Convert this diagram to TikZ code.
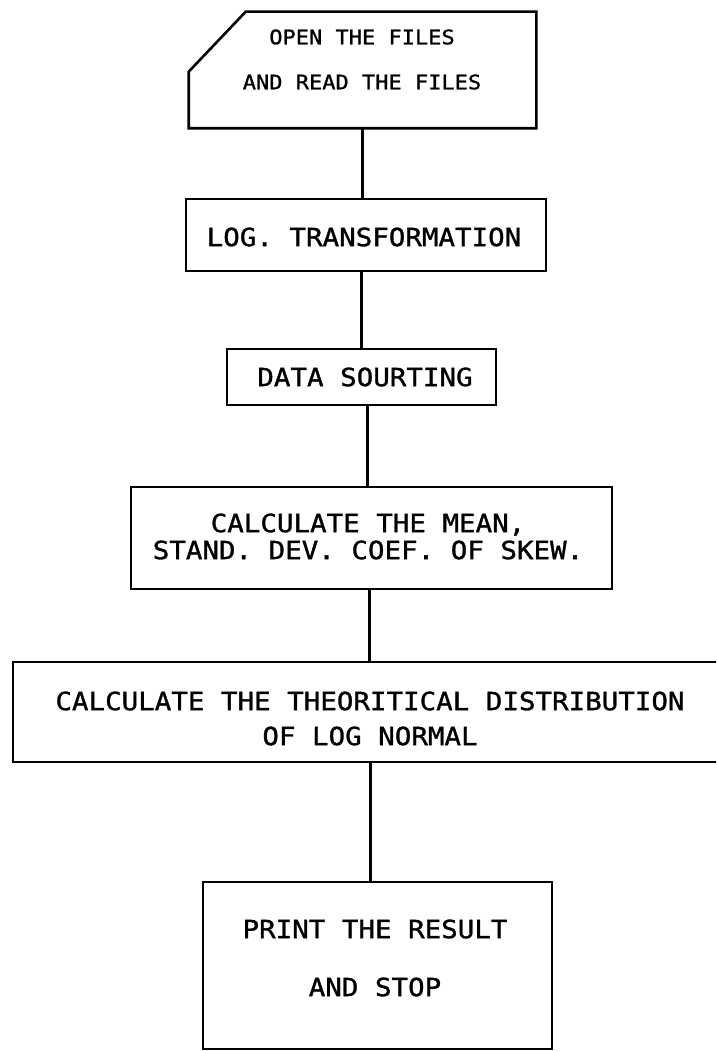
\documentclass[tikz,border=0pt]{standalone}
\usepackage{fontspec}
\newfontfamily\plotfont[FakeStretch=1.1,FakeBold=1.2]{DejaVu Sans Mono}
\usetikzlibrary{calc}
\begin{document}
\begin{tikzpicture}[x=1pt,y=-1pt,
  line width=2.6pt,
  box/.style={draw, rectangle, inner sep=0pt},
  txt/.style={inner sep=0pt, align=center, font=\plotfont\fontsize{25}{27}\selectfont},
  smalltxt/.style={txt, font=\plotfont\fontsize{20}{45}\selectfont},
  wire/.style={draw, line width=3pt}]
\useasboundingbox (0,0) rectangle (716,1051);
\clip (0,0) rectangle (716,1051);

% input card with a clipped upper-left corner
\node[minimum width=345pt, minimum height=114pt, inner sep=0pt] (open) at (362.5,70) {};
\draw ($(open.north west)+(57,0)$) -- (open.north east) -- (open.south east)
      -- (open.south west) -- ($(open.north west)+(0,60)$) -- cycle;
\node[smalltxt] (opentext) at (362,59.5) {OPEN THE FILES\\AND READ THE FILES};

% processing steps
\node[box, minimum width=360pt, minimum height=72pt] (logt) at (366,235) {};
\node[txt] (logtext) at (364,237) {LOG. TRANSFORMATION};

\node[box, minimum width=269pt, minimum height=56pt] (sort) at (361.5,377) {};
\node[txt] (sorttext) at (365,377) {DATA SOURTING};

\node[box, minimum width=481pt, minimum height=102pt] (mean) at (371.5,538) {};
\node[txt] (meantext) at (368,536.5) {CALCULATE THE MEAN,\\STAND. DEV. COEF. OF SKEW.};

\node[box, minimum width=714pt, minimum height=100pt] (dist) at (370,712) {};
\node[txt, font=\plotfont\fontsize{25}{35}\selectfont] (disttext) at (370,718.5)
  {CALCULATE THE THEORITICAL DISTRIBUTION\\OF LOG NORMAL};

\node[box, minimum width=349pt, minimum height=167pt] (print) at (377.5,965.5) {};
\node[txt, font=\plotfont\fontsize{25}{58}\selectfont] (printtext) at (375,958)
  {PRINT THE RESULT\\AND STOP};

% connecting lines
\path[wire] (open.south) -- (open.south |- logt.north);
\path[wire] (sort.north) -- (sort.north |- logt.south);
\path[wire] ([xshift=5.5pt]sort.south) -- ([xshift=5.5pt]sort.south |- mean.north);
\path[wire] ([xshift=-2pt]mean.south) -- ([xshift=-2pt]mean.south |- dist.north);
\path[wire] (dist.south) -- (dist.south |- print.north);
\end{tikzpicture}
\end{document}
